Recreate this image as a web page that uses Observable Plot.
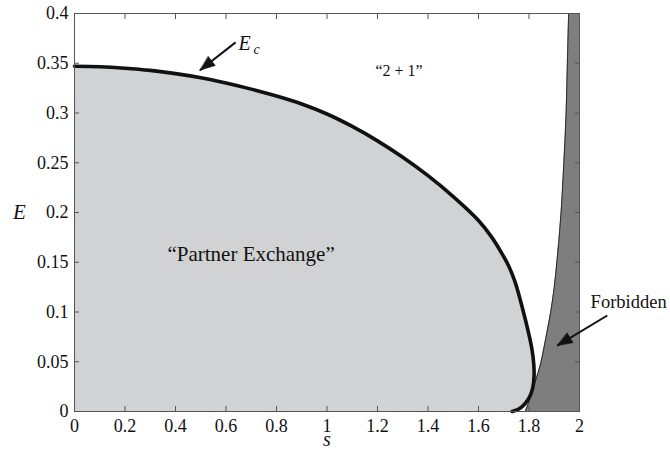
<!DOCTYPE html>
<html>
<head>
<meta charset="utf-8">
<script src="https://cdn.jsdelivr.net/npm/d3@7"></script>
<script src="https://cdn.jsdelivr.net/npm/@observablehq/plot@0.6"></script>
<style>
  body { margin: 0; background: #fff; }
  svg { display: block; }
</style>
</head>
<body>
<div id="chart"></div>
<script>
// Critical energy curve E_c(s), traced from s = 0 down to where it meets E = 0
const ecS = [0, 0.1, 0.2, 0.3, 0.4, 0.5, 0.6, 0.7, 0.8, 0.9, 1.0, 1.1, 1.2, 1.3, 1.4, 1.5, 1.6, 1.65, 1.69, 1.72, 1.745, 1.766, 1.785, 1.80, 1.812, 1.819, 1.82, 1.815, 1.803, 1.785, 1.763, 1.745, 1.733];
const ecE = [0.347, 0.3465, 0.345, 0.3428, 0.3396, 0.3355, 0.3302, 0.324, 0.317, 0.309, 0.299, 0.2865, 0.272, 0.2555, 0.237, 0.216, 0.192, 0.176, 0.160, 0.146, 0.130, 0.1116, 0.093, 0.077, 0.062, 0.047, 0.035, 0.024, 0.015, 0.008, 0.003, 0.001, 0];

// Left boundary of the forbidden region
const forbiddenE = [0, 0.01, 0.02, 0.031, 0.048, 0.065, 0.081, 0.1, 0.125, 0.16, 0.2, 0.25, 0.3, 0.35, 0.4];
const forbiddenS = [1.785, 1.80, 1.812, 1.826, 1.846, 1.86, 1.872, 1.886, 1.900, 1.914, 1.927, 1.938, 1.947, 1.952, 1.957];

// Axis ticks
const xTicks = [0, 0.2, 0.4, 0.6, 0.8, 1, 1.2, 1.4, 1.6, 1.8, 2];
const xTickLabels = ["0", "0.2", "0.4", "0.6", "0.8", "1", "1.2", "1.4", "1.6", "1.8", "2"];
const yTicks = [0, 0.05, 0.1, 0.15, 0.2, 0.25, 0.3, 0.35, 0.4];
const yTickLabels = ["0", "0.05", "0.1", "0.15", "0.2", "0.25", "0.3", "0.35", "0.4"];

// Region labels
const regionLabels = [
  {s: 0.368, E: 0.1585, text: "\u201cPartner Exchange\u201d", size: 21},
  {s: 1.192, E: 0.3427, text: "\u201c2 + 1\u201d", size: 16},
  {s: 2.044, E: 0.1095, text: "Forbidden", size: 18.5}
];

// Annotation arrows (tail -> head)
const arrows = [
  {s1: 0.638, E1: 0.371, s2: 0.497, E2: 0.343},
  {s1: 2.110, E1: 0.0965, s2: 1.912, E2: 0.0663}
];

const ec = ecS.map((s, i) => ({s, E: ecE[i]}));
const forbidden = forbiddenS.map((s, i) => ({s, E: forbiddenE[i]}));

const width = 670, height = 449;
const margin = {top: 13, right: 91, bottom: 38, left: 74};
const xDomain = [0, 2], yDomain = [0, 0.4];

// Scales used to orient the filled arrowheads in screen space
const xs = Plot.scale({x: {domain: xDomain, range: [margin.left, width - margin.right]}});
const ys = Plot.scale({y: {domain: yDomain, range: [height - margin.bottom, margin.top]}});
const headAngle = d => {
  const dx = xs.apply(d.s2) - xs.apply(d.s1);
  const dy = ys.apply(d.E2) - ys.apply(d.E1);
  return Math.atan2(dx, -dy) * 180 / Math.PI;
};
const headShape = {
  draw(context, l) {
    context.moveTo(0, -l);
    context.lineTo(-l * 0.38, 0);
    context.lineTo(l * 0.38, 0);
    context.closePath();
  }
};

const serif = "Liberation Serif";

const chart = Plot.plot({
  width, height,
  marginTop: margin.top, marginRight: margin.right,
  marginBottom: margin.bottom, marginLeft: margin.left,
  x: {domain: xDomain, label: null, axis: null},
  y: {domain: yDomain, label: null, axis: null},
  style: {fontFamily: serif, fontSize: "18px", color: "#111", background: "#fff"},
  marks: [
    // "Partner Exchange" region under the curve
    Plot.areaX(ec.slice().reverse(), {y: "E", x1: 0, x2: "s", fill: "#d1d2d4", curve: "catmull-rom"}),
    // forbidden region
    Plot.areaX(forbidden, {y: "E", x1: "s", x2: 2, fill: "#7e7e7e", curve: "catmull-rom"}),
    Plot.line(forbidden, {x: "s", y: "E", stroke: "#2a2a2a", strokeWidth: 1, curve: "catmull-rom"}),
    // E_c curve
    Plot.line(ec, {x: "s", y: "E", stroke: "#111", strokeWidth: 3.6, curve: "catmull-rom"}),
    Plot.frame({stroke: "#555", strokeWidth: 1}),
    // box axes: inward ticks on all four sides
    Plot.axisX(xTicks, {anchor: "bottom", tickSize: -5, stroke: "#555", tickFormat: () => "", label: null}),
    Plot.axisX(xTicks, {anchor: "top", tickSize: -5, stroke: "#555", tickFormat: () => "", label: null}),
    Plot.axisY(yTicks, {anchor: "left", tickSize: -5, stroke: "#555", tickFormat: () => "", label: null}),
    Plot.axisY(yTicks, {anchor: "right", tickSize: -5, stroke: "#555", tickFormat: () => "", label: null}),
    // tick labels
    Plot.text(xTicks, {x: d => d, frameAnchor: "bottom", dy: 8, lineAnchor: "top", textAnchor: "middle",
      text: (d, i) => xTickLabels[i], fontSize: 18, fontFamily: serif, fill: "#111"}),
    Plot.text(yTicks, {y: d => d, frameAnchor: "left", dx: -6, lineAnchor: "middle", textAnchor: "end",
      text: (d, i) => yTickLabels[i], fontSize: 18, fontFamily: serif, fill: "#111"}),
    // axis titles
    Plot.text(["E"], {frameAnchor: "left", dx: -55, fontSize: 21, fontStyle: "italic", fontFamily: serif,
      textAnchor: "middle", lineAnchor: "middle"}),
    Plot.text(["s"], {frameAnchor: "bottom", dy: 28, fontSize: 20, fontStyle: "italic", fontFamily: serif,
      textAnchor: "middle", lineAnchor: "middle"}),
    // region labels
    Plot.text(regionLabels, {x: "s", y: "E", text: "text", fontSize: d => d.size, fontFamily: serif, textAnchor: "start", fill: "#111"}),
    // E_c label
    Plot.text([{s: 0.6495, E: 0.3693}], {x: "s", y: "E", text: () => "E", fontSize: 20, fontStyle: "italic", fontFamily: serif, textAnchor: "start"}),
    Plot.text([{s: 0.6495, E: 0.3693}], {x: "s", y: "E", text: () => "c", fontSize: 14, fontStyle: "italic", fontFamily: serif, textAnchor: "start", dx: 15, dy: 5}),
    // arrows
    Plot.link(arrows, {x1: "s1", y1: "E1", x2: "s2", y2: "E2", stroke: "#111", strokeWidth: 2}),
    Plot.vector(arrows, {x: "s2", y: "E2", length: 15, rotate: headAngle, anchor: "end", shape: headShape, fill: "#111", stroke: "#111", strokeWidth: 0.5})
  ]
});

document.getElementById("chart").appendChild(chart);
</script>
</body>
</html>
